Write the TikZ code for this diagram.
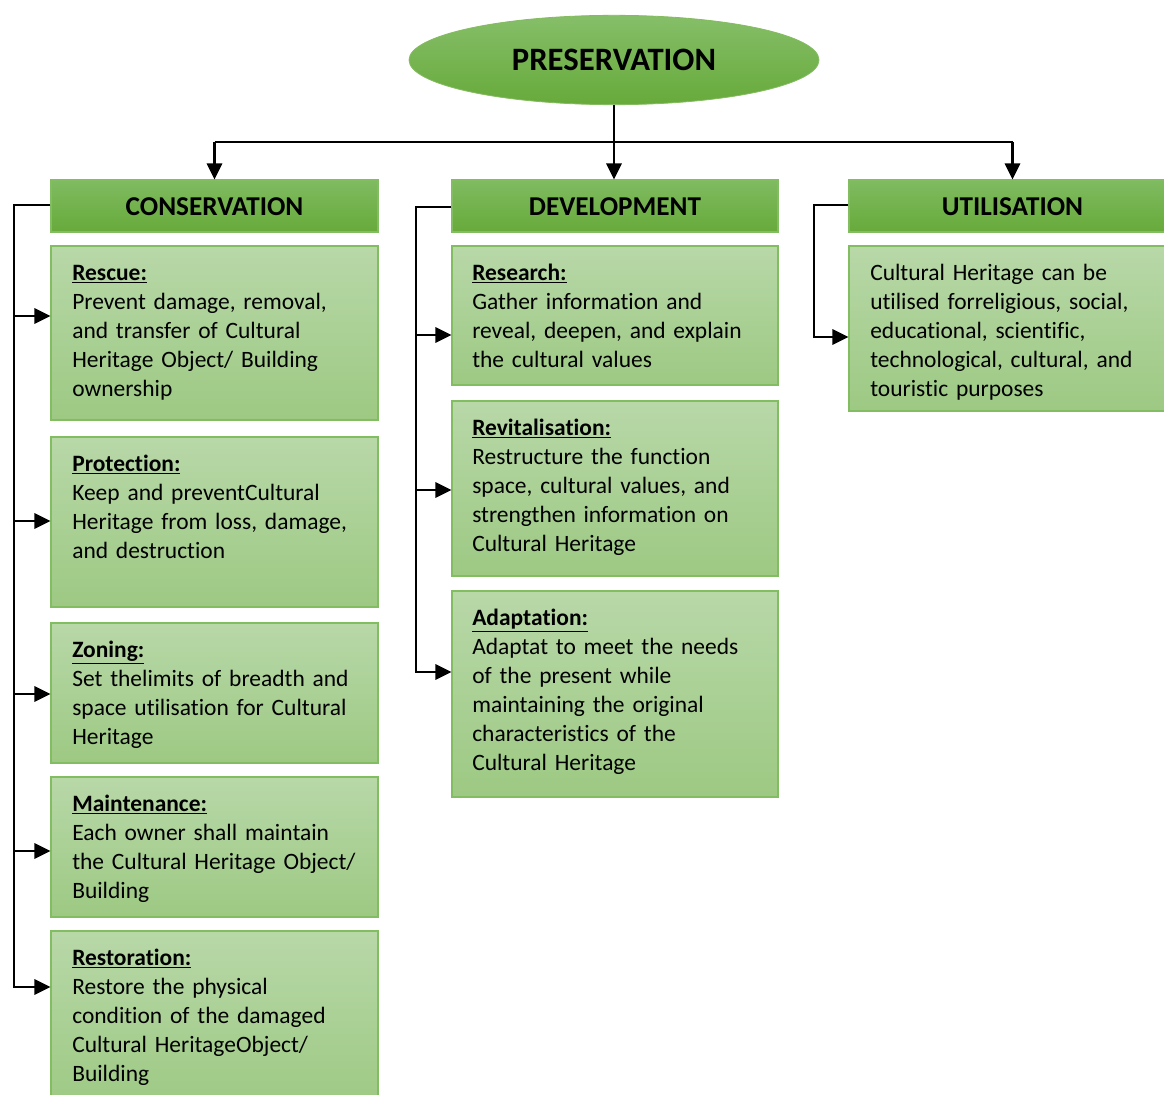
\documentclass[tikz,border=0pt]{standalone}
\usepackage{fontspec}
\setmainfont[Ligatures=NoCommon]{Carlito}
\usetikzlibrary{shapes.geometric,arrows.meta,fit,calc}
\definecolor{hdrtop}{RGB}{127,187,97}
\definecolor{hdrbot}{RGB}{103,170,58}
\definecolor{boxtop}{RGB}{184,216,168}
\definecolor{boxbot}{RGB}{157,201,131}
\definecolor{edgegreen}{RGB}{130,189,98}
\newcommand{\bodyfont}{\fontsize{17.6}{21.75}\selectfont}
\newcommand{\hdrfont}{\fontsize{20.4}{24}\selectfont\bfseries}
\newcommand{\ttl}[1]{\underline{\textbf{#1}}}
\tikzset{
  hdrbox/.style={draw=edgegreen, line width=0.9pt, top color=hdrtop, bottom color=hdrbot, inner sep=0pt},
  bodybox/.style={draw=edgegreen, line width=0.9pt, top color=boxtop, bottom color=boxbot, inner sep=0pt},
  hdrtext/.style={font=\hdrfont, text=black, inner sep=0pt},
  bodytext/.style={font=\bodyfont, text=black, inner sep=0pt, anchor=base west, align=left, text width=240pt},
  conn/.style={line width=1.7pt, black},
  arr/.style={conn, -{Triangle[length=12pt,width=11.5pt]}},
}
\begin{document}
\begin{tikzpicture}[x=0.75pt,y=-0.75pt]
\path[use as bounding box] (0,0) rectangle (1164,1095);
\clip (0,0) rectangle (1164,1095);

% top ellipse
\node[ellipse, minimum width=307.5pt, minimum height=67pt, inner sep=0pt,
      top color=hdrtop!95!white, bottom color=hdrbot, draw=hdrbot!80!white, line width=0.6pt]
      (pres) at (614,60) {\fontsize{24.5}{28}\selectfont\bfseries PRESERVATION};

% column headers
\node[hdrbox, fit={(51,180) (378,232)}] (cons) {};
\node[hdrtext] (consT) at (214.5,207) {CONSERVATION};
\node[hdrbox, fit={(452,180) (778,232)}] (dev) {};
\node[hdrtext] (devT) at (615,207) {DEVELOPMENT};
\node[hdrbox, fit={(849,180) (1176,232)}] (util) {};
\node[hdrtext] (utilT) at (1012.5,207) {UTILISATION};

% conservation boxes
\node[bodybox, fit={(51,246) (378,420)}] (rescue) {};
\node[bodytext] (rescueT) at (72,280.5) {\ttl{Rescue:}\\Prevent damage, removal,\\and transfer of Cultural\\Heritage Object/ Building\\ownership};
\node[bodybox, fit={(51,437) (378,607)}] (protect) {};
\node[bodytext] (protectT) at (72,471) {\ttl{Protection:}\\Keep and preventCultural\\Heritage from loss, damage,\\and destruction};
\node[bodybox, fit={(51,623) (378,763)}] (zoning) {};
\node[bodytext] (zoningT) at (72,657.5) {\ttl{Zoning:}\\Set thelimits of breadth and\\space utilisation for Cultural\\Heritage};
\node[bodybox, fit={(51,777) (378,917)}] (maint) {};
\node[bodytext] (maintT) at (72,811.5) {\ttl{Maintenance:}\\Each owner shall maintain\\the Cultural Heritage Object/\\Building};
\node[bodybox, fit={(51,931) (378,1110)}] (restor) {};
\node[bodytext] (restorT) at (72,965.5) {\ttl{Restoration:}\\Restore the physical\\condition of the damaged\\Cultural HeritageObject/\\Building};

% development boxes
\node[bodybox, fit={(452,246) (778,385)}] (research) {};
\node[bodytext] (researchT) at (472,280.5) {\ttl{Research:}\\Gather information and\\reveal, deepen, and explain\\the cultural values};
\node[bodybox, fit={(452,401) (778,576)}] (revit) {};
\node[bodytext] (revitT) at (472,435.5) {\ttl{Revitalisation:}\\Restructure the function\\space, cultural values, and\\strengthen information on\\Cultural Heritage};
\node[bodybox, fit={(452,591) (778,797)}] (adapt) {};
\node[bodytext] (adaptT) at (472,625.5) {\ttl{Adaptation:}\\Adaptat to meet the needs\\of the present while\\maintaining the original\\characteristics of the\\Cultural Heritage};

% utilisation box
\node[bodybox, fit={(849,246) (1176,411)}] (utilbody) {};
\node[bodytext] (utilbodyT) at (870,280.5) {Cultural Heritage can be\\utilised forreligious, social,\\educational, scientific,\\technological, cultural, and\\touristic purposes};

% top distribution
\coordinate (bus) at (614,142);
\draw[arr] (pres.south) -- (pres.south |- dev.north);
\draw[conn] (cons.north |- bus) -- (util.north |- bus);
\draw[arr] (cons.north |- bus) -- (cons.north);
\draw[arr] (util.north |- bus) -- (util.north);

% conservation spine
\coordinate (spineL) at (14,205);
\draw[arr] (cons.west |- spineL) -- (spineL) |- (rescue.west |- 0,316);
\draw[arr] (spineL) |- (protect.west |- 0,521);
\draw[arr] (spineL) |- (zoning.west |- 0,694);
\draw[arr] (spineL) |- (maint.west |- 0,851);
\draw[arr] (spineL) |- (restor.west |- 0,987);

% development spine
\coordinate (spineM) at (416,207);
\draw[arr] (dev.west |- spineM) -- (spineM) |- (research.west |- 0,335);
\draw[arr] (spineM) |- (revit.west |- 0,490);
\draw[arr] (spineM) |- (adapt.west |- 0,672);

% utilisation spine
\coordinate (spineR) at (814,205);
\draw[arr] (util.west |- spineR) -- (spineR) |- (utilbody.west |- 0,337);
\end{tikzpicture}
\end{document}
